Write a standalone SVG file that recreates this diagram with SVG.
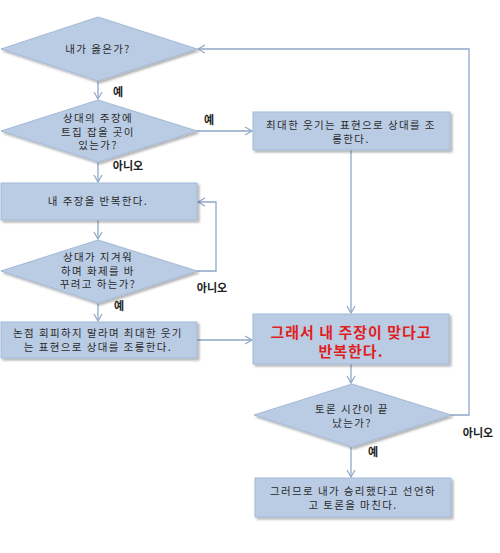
<svg xmlns="http://www.w3.org/2000/svg" width="500" height="553" viewBox="0 0 500 553">
<style>
.n{fill:#b9cce4;stroke:#a3b9d6;stroke-width:1;filter:url(#sh)}
.t{font-family:"Noto Sans CJK KR","Noto Sans",sans-serif;font-size:10.5px;letter-spacing:1.4px;fill:#2a2a2a;text-anchor:middle}
.r{font-family:"Noto Sans CJK KR","Noto Sans",sans-serif;font-size:15px;letter-spacing:1px;font-weight:bold;fill:#e01e1e;text-anchor:middle}
.l{font-family:"Noto Sans CJK KR","Noto Sans",sans-serif;font-size:11px;font-weight:bold;fill:#222;text-anchor:middle}
.c{fill:none;stroke:#8fa7c8;stroke-width:1.3}
</style>
<defs>
<filter id="sh" x="-10%" y="-10%" width="130%" height="140%">
<feDropShadow dx="2" dy="2" stdDeviation="1" flood-color="#000" flood-opacity="0.3"/>
</filter>
<marker id="a" markerWidth="10" markerHeight="10" refX="8" refY="5" orient="auto" markerUnits="userSpaceOnUse">
<path d="M1,1 L8,5 L1,9" fill="none" stroke="#8fa7c8" stroke-width="1.2"/>
</marker>
</defs>
<rect width="500" height="553" fill="#fff"/>
<g id="connectors">
<path class="c" d="M98,81 V99" marker-end="url(#a)"/>
<path class="c" d="M98,162 V182" marker-end="url(#a)"/>
<path class="c" d="M98,220 V239" marker-end="url(#a)"/>
<path class="c" d="M98,303 V321" marker-end="url(#a)"/>
<path class="c" d="M197,271 H216 V202 H198" marker-end="url(#a)"/>
<path class="c" d="M197,131 H252" marker-end="url(#a)"/>
<path class="c" d="M351,150 V313" marker-end="url(#a)"/>
<path class="c" d="M197,340 H252" marker-end="url(#a)"/>
<path class="c" d="M351,364 V383" marker-end="url(#a)"/>
<path class="c" d="M351,447 V477" marker-end="url(#a)"/>
<path class="c" d="M451,415 H469 V49 H198" marker-end="url(#a)"/>
<text class="l" x="118" y="96">예</text>
<text class="l" x="128" y="170">아니오</text>
<text class="l" x="209" y="124">예</text>
<text class="l" x="212" y="292">아니오</text>
<text class="l" x="119" y="310">예</text>
<text class="l" x="478" y="437">아니오</text>
<text class="l" x="373" y="456">예</text>
</g>
<g id="d1">
<polygon class="n" points="98,17 197,49 98,81 1,49"/>
<text class="t" x="98" y="53">내가 옳은가?</text>
</g>
<g id="d2">
<polygon class="n" points="98,100 197,131 98,162 1,131"/>
<text class="t" x="98" y="122">상대의 주장에<tspan x="98" dy="13.5">트집 잡을 곳이</tspan><tspan x="98" dy="13.5">있는가?</tspan></text>
</g>
<g id="boxA">
<rect class="n" x="1" y="183" width="196" height="37"/>
<text class="t" x="98" y="205">내 주장을 반복한다.</text>
</g>
<g id="d3">
<polygon class="n" points="98,240 197,271 98,303 1,271"/>
<text class="t" x="98" y="261">상대가 지겨워<tspan x="98" dy="13.5">하며 화제를 바</tspan><tspan x="98" dy="13.5">꾸려고 하는가?</tspan></text>
</g>
<g id="boxB">
<rect class="n" x="1" y="322" width="196" height="36"/>
<text class="t" x="98" y="337">논점 회피하지 말라며 최대한 웃기<tspan x="98" dy="14">는 표현으로 상대를 조롱한다.</tspan></text>
</g>
<g id="boxC">
<rect class="n" x="253" y="112" width="197" height="38"/>
<text class="t" x="351" y="129">최대한 웃기는 표현으로 상대를 조<tspan x="351" dy="14">롱한다.</tspan></text>
</g>
<g id="boxR">
<rect class="n" x="253" y="314" width="196" height="50"/>
<text class="r" x="351" y="338">그래서 내 주장이 맞다고<tspan x="351" dy="19">반복한다.</tspan></text>
</g>
<g id="d4">
<polygon class="n" points="352,384 451,415 352,447 254,415"/>
<text class="t" x="352" y="413">토론 시간이 끝<tspan x="352" dy="13.5">났는가?</tspan></text>
</g>
<g id="boxF">
<rect class="n" x="255" y="478" width="196" height="39"/>
<text class="t" x="353" y="495">그러므로 내가 승리했다고 선언하<tspan x="353" dy="14">고 토론을 마친다.</tspan></text>
</g>
</svg>
